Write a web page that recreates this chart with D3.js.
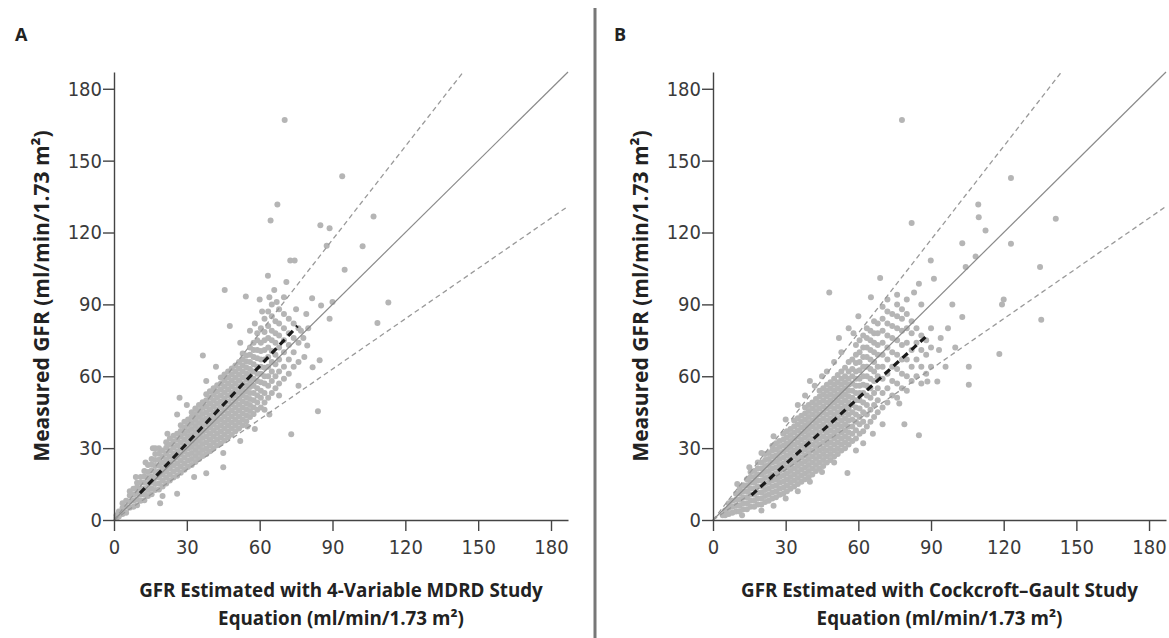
<!DOCTYPE html>
<meta charset="utf-8">
<style>
body { margin: 0; background: #fff; }
svg { display: block; }
.axis path, .axis line { stroke: #444; stroke-width: 1.4; }
.axis text { font-family: "DejaVu Sans Condensed", sans-serif; font-size: 20px; fill: #3a3a3a; }
.title { font-family: "Open Sans", sans-serif; font-weight: bold; font-size: 18.8px; fill: #222; }
.ytitle { font-family: "Open Sans", sans-serif; font-weight: bold; font-size: 21px; fill: #222; }
.panel-label { font-family: "Open Sans", sans-serif; font-weight: bold; font-size: 18px; fill: #222; }
</style>
<body>
<script src="https://d3js.org/d3.v7.min.js"></script>
<script>
// tick values, agreement limits (30% lines) and regression end points
var ticks = [0, 30, 60, 90, 120, 150, 180];
var limits = [1.3, 0.7];
var mdrdFit = [[10.7, 11.2], [75.6, 81]];
var cgFit = [[15.9, 10.4], [88.4, 77]];

// dense part of the cloud, read column by column: [x, [y, y, ...]]
var mdrdColumns = [
  [1, [0.8, 2]], [2, [1.5, 3.5]], [3.5, [2.5, 5, 7]], [5, [3, 5.5, 8]],
  [6.5, [5.2, 7.7, 10.2, 12]], [8, [5.5, 8, 10.5, 13]], [9.5, [6.2, 8.7, 11.2, 13.7, 15.5]],
  [11, [8, 10.5, 13, 15.5, 18]], [12.5, [8.2, 10.7, 13.2, 15.7, 18.2, 20.5]],
  [14, [10, 12.5, 15, 17.5, 20, 23]], [15.5, [10.7, 13.2, 15.7, 18.2, 20.7, 23.2, 25.5]],
  [17, [12.5, 15, 17.5, 20, 22.5, 25, 27.5]], [18.5, [12.7, 15.2, 17.7, 20.2, 22.7, 25.2, 27.7, 30]],
  [20, [14, 16.5, 19, 21.5, 24, 26.5, 29]], [21.5, [15.2, 17.7, 20.2, 22.7, 25.2, 27.7, 30.2, 32.5]],
  [23, [16.5, 19, 21.5, 24, 26.5, 29, 31.5, 34]], [24.5, [17.7, 20.2, 22.7, 25.2, 27.7, 30.2, 32.7, 35.2]],
  [26, [18.5, 21, 23.5, 26, 28.5, 31, 33.5, 36]],
  [27.5, [19.7, 22.2, 24.7, 27.2, 29.7, 32.2, 34.7, 37.2, 39.5]],
  [29, [21, 23.5, 26, 28.5, 31, 33.5, 36, 38.5, 41]],
  [30.5, [22.2, 24.7, 27.2, 29.7, 32.2, 34.7, 37.2, 39.7, 42]],
  [32, [23, 25.5, 28, 30.5, 33, 35.5, 38, 40.5, 43, 45]],
  [33.5, [24.2, 26.7, 29.2, 31.7, 34.2, 36.7, 39.2, 41.7, 44.2, 46.5]],
  [35, [25.5, 28, 30.5, 33, 35.5, 38, 40.5, 43, 45.5, 48]],
  [36.5, [26.7, 29.2, 31.7, 34.2, 36.7, 39.2, 41.7, 44.2, 46.7, 49.2]],
  [38, [27.5, 30, 32.5, 35, 37.5, 40, 42.5, 45, 47.5, 50, 52.5]],
  [39.5, [28.7, 31.2, 33.7, 36.2, 38.7, 41.2, 43.7, 46.2, 48.7, 51.2, 53.7]],
  [41, [30, 32.5, 35, 37.5, 40, 42.5, 45, 47.5, 50, 52.5, 55]],
  [42.5, [31.2, 33.7, 36.2, 38.7, 41.2, 43.7, 46.2, 48.7, 51.2, 53.7, 56.2]],
  [44, [32, 34.5, 37, 39.5, 42, 44.5, 47, 49.5, 52, 54.5, 57, 59.5]],
  [45.5, [33.2, 35.7, 38.2, 40.7, 43.2, 45.7, 48.2, 50.7, 53.2, 55.7, 58.2, 60.7]],
  [47, [34.5, 37, 39.5, 42, 44.5, 47, 49.5, 52, 54.5, 57, 59.5, 62]],
  [48.5, [35.7, 38.2, 40.7, 43.2, 45.7, 48.2, 50.7, 53.2, 55.7, 58.2, 60.7, 63.2]],
  [50, [37, 39.5, 42, 44.5, 47, 49.5, 52, 54.5, 57, 59.5, 62, 64.5]],
  [51.5, [38.2, 40.7, 43.2, 45.7, 48.2, 50.7, 53.2, 55.7, 58.2, 60.7, 63.2, 66]],
  [53, [39.5, 42, 44.5, 47, 49.5, 52, 54.5, 57, 59.5, 62, 64.5, 67, 69.5]],
  [54.5, [41.2, 43.7, 46.2, 48.7, 51.2, 53.7, 56.2, 58.7, 61.2, 63.7, 66.2, 68.7]],
  [56, [43, 45.5, 48, 50.5, 53, 55.5, 58, 60.5, 63, 66, 69, 72]],
  [57.5, [44.2, 47, 50, 53, 56, 59, 62, 65, 68, 71, 74]],
  [59, [46, 49, 52, 55, 58, 61, 64, 67.5, 71, 75, 78]],
  [60.5, [47, 51, 54, 57.5, 61, 64, 67, 70.5, 74, 80]],
  [62, [49, 53, 57, 60, 63.5, 67, 71, 75, 78.5, 84]],
  [63.5, [51, 56, 60, 64, 68, 72, 76, 81, 87]],
  [65, [53, 58, 62, 66, 70.5, 75, 79, 85, 90]],
  [66.5, [55, 60, 65, 69, 74, 78, 83]],
  [68, [57, 62, 67, 72, 77, 82, 88]],
  [70, [59, 64, 70, 75, 80, 86]],
  [72, [61, 67, 73, 78, 84]],
  [74, [64, 70, 76, 82]],
  [76, [66, 74, 80]]
];
var mdrdOutliers = [
  [70.3, 167], [94, 143.5], [67.3, 131.7], [64.5, 125], [106.9, 126.7], [85, 123], [88.8, 121.8],
  [87.6, 114.5], [102.4, 114.3], [72.6, 108.3], [74.4, 108.3], [95, 104.5], [63.4, 102], [45.6, 96],
  [54.3, 93.3], [113, 90.8], [108.5, 82.2], [47.7, 81], [71, 99.3], [81.6, 92.6], [90, 91], [88.8, 84],
  [85.3, 89.5], [73, 35.8], [84, 45.4], [84.7, 66.7], [81.8, 63.8], [78.4, 68], [79.6, 72.8], [79.2, 86],
  [58, 82], [61, 87], [64, 93], [67, 91], [70, 93], [75, 88], [77, 79], [60, 92], [66, 96], [56, 79],
  [52, 74], [42, 64], [38, 58], [36.6, 68.7], [27, 51], [30, 48], [26, 44], [22, 36], [17, 30], [16, 30],
  [13, 24], [9, 18], [19, 7], [26, 11], [20, 10], [33, 18], [38, 19.5], [45, 22], [45, 28], [52, 33],
  [58, 38], [64, 44], [68, 52], [76, 56], [78, 76], [80, 80], [62, 46], [55, 39]
];

var cgColumns = [
  [5, [2, 4]], [6.5, [2.5, 5, 7]], [8, [3, 5.5, 8]], [9.5, [3.5, 6, 8.5, 11]],
  [11, [3.5, 6, 8.5, 11, 13]], [12.5, [4.5, 7, 9.5, 12, 14.5]], [14, [4.5, 7, 9.5, 12, 14.5, 17]],
  [15.5, [5.5, 8, 10.5, 13, 15.5, 18, 20]], [17, [5.5, 8, 10.5, 13, 15.5, 18, 20.5]],
  [18.5, [6.5, 9, 11.5, 14, 16.5, 19, 21.5, 24]], [20, [6.5, 9, 11.5, 14, 16.5, 19, 21.5, 24]],
  [21.5, [7.5, 10, 12.5, 15, 17.5, 20, 22.5, 25, 27.5]], [23, [8, 10.5, 13, 15.5, 18, 20.5, 23, 25.5, 28]],
  [24.5, [9, 11.5, 14, 16.5, 19, 21.5, 24, 26.5, 29, 31]],
  [26, [9.5, 12, 14.5, 17, 19.5, 22, 24.5, 27, 29.5, 32]],
  [27.5, [10.5, 13, 15.5, 18, 20.5, 23, 25.5, 28, 30.5, 33]],
  [29, [11, 13.5, 16, 18.5, 21, 23.5, 26, 28.5, 31, 33.5, 36]],
  [30.5, [12, 14.5, 17, 19.5, 22, 24.5, 27, 29.5, 32, 34.5, 37]],
  [32, [13, 15.5, 18, 20.5, 23, 25.5, 28, 30.5, 33, 35.5, 38]],
  [33.5, [14, 16.5, 19, 21.5, 24, 26.5, 29, 31.5, 34, 36.5, 39, 41.5]],
  [35, [15, 17.5, 20, 22.5, 25, 27.5, 30, 32.5, 35, 37.5, 40, 42.5]],
  [36.5, [16, 18.5, 21, 23.5, 26, 28.5, 31, 33.5, 36, 38.5, 41, 43.5]],
  [38, [17, 19.5, 22, 24.5, 27, 29.5, 32, 34.5, 37, 39.5, 42, 44.5, 47]],
  [39.5, [18, 20.5, 23, 25.5, 28, 30.5, 33, 35.5, 38, 40.5, 43, 45.5, 48]],
  [41, [19, 21.5, 24, 26.5, 29, 31.5, 34, 36.5, 39, 41.5, 44, 46.5, 49]],
  [42.5, [20.5, 23, 25.5, 28, 30.5, 33, 35.5, 38, 40.5, 43, 45.5, 48, 50.5]],
  [44, [21.5, 24, 26.5, 29, 31.5, 34, 36.5, 39, 41.5, 44, 46.5, 49, 51.5, 54]],
  [45.5, [22.5, 25, 27.5, 30, 32.5, 35, 37.5, 40, 42.5, 45, 47.5, 50, 52.5, 55]],
  [47, [24, 26.5, 29, 31.5, 34, 36.5, 39, 41.5, 44, 46.5, 49, 51.5, 54, 56.5]],
  [48.5, [25, 27.5, 30, 32.5, 35, 37.5, 40, 42.5, 45, 47.5, 50, 52.5, 55, 57.5]],
  [50, [26.5, 29, 31.5, 34, 36.5, 39, 41.5, 44, 46.5, 49, 51.5, 54, 56.5, 59]],
  [51.5, [27.5, 30, 32.5, 35, 37.5, 40, 42.5, 45, 47.5, 50, 52.5, 55, 57.5, 60.5]],
  [53, [29, 31.5, 34, 36.5, 39, 41.5, 44, 46.5, 49, 51.5, 54, 56.5, 59, 62]],
  [54.5, [30, 32.5, 35, 37.5, 40, 42.5, 45, 47.5, 50, 52.5, 55, 57.5, 60, 63.5]],
  [56, [31.5, 34, 36.5, 39, 41.5, 44, 46.5, 49, 51.5, 54, 56.5, 59, 62, 66]],
  [57.5, [33, 36, 39, 42, 45, 48, 51, 54, 57, 60, 63, 67]],
  [59, [34, 37.5, 41, 44, 47, 50, 53, 56, 59, 62, 65.5, 69, 73]],
  [60.5, [36, 40, 43, 46.5, 50, 53, 56, 59, 62.5, 66, 70, 75]],
  [62, [37, 41, 45, 49, 53, 56.5, 60, 64, 68, 72, 77]],
  [63.5, [39, 44, 48, 52, 56, 60, 64, 68, 72, 76, 80]],
  [65, [41, 46, 51, 55, 59, 63, 67, 71, 75, 79]],
  [66.5, [43, 48, 53, 58, 62, 66, 70, 74, 78, 83]],
  [68, [45, 50, 55, 60, 64, 69, 73, 78, 82]],
  [70, [47, 53, 59, 64, 69, 74, 79, 84, 89]],
  [72, [49, 55, 61, 67, 72, 77, 82, 87]],
  [74, [52, 58, 64, 70, 76, 81, 86]],
  [76, [51, 57, 63, 69, 75, 80, 85, 90]],
  [78, [55, 61, 67, 73, 79, 84]],
  [80, [54, 60, 67, 74, 80, 86]],
  [82, [58, 64, 71, 78, 83]],
  [84, [60, 67, 74, 80]],
  [86, [57, 64, 71, 77]],
  [88, [61, 69, 75]],
  [90, [64, 72]]
];
var cgOutliers = [
  [78, 167], [123, 142.8], [82, 124], [109.5, 131.7], [109.7, 126.4], [112.5, 120.8], [141.5, 125.7],
  [102.9, 115.5], [123, 115.3], [108.4, 110], [104.3, 105.6], [135, 105.6], [135.5, 83.6], [120, 92],
  [119.3, 90], [118.2, 69.3], [105.6, 64], [105.6, 56.5], [98.8, 90], [102.9, 84.7], [91.2, 100.7],
  [89.9, 108.3], [85, 98.6], [69, 101], [48, 95], [92.6, 57.8], [88.5, 57.8], [85, 35.4], [76.9, 48.6],
  [65.2, 93], [78, 88], [80, 92], [83, 95], [76, 94], [96, 64], [93.3, 71], [79, 40], [55.5, 19.6],
  [59, 29], [62, 32], [66, 36], [70, 40], [90, 80], [94, 76], [86, 90], [72, 92], [60, 85], [56, 80],
  [52, 76], [58, 78], [47, 62], [50, 66], [53, 70], [45, 60], [42, 56], [38, 52], [40, 58], [35, 48],
  [30, 42], [25, 35], [20, 28], [15, 22], [10, 15], [4, 2], [12, 2], [20, 4], [25, 6], [30, 9],
  [35, 12], [40, 16], [45, 20], [50, 24], [100, 72], [97, 80]
];

var panels = [
  { label: "A", left: 114, right: 568, cols: mdrdColumns, out: mdrdOutliers, fit: mdrdFit,
    xTitle: "GFR Estimated with 4-Variable MDRD Study" },
  { label: "B", left: 713, right: 1166, cols: cgColumns, out: cgOutliers, fit: cgFit,
    xTitle: "GFR Estimated with Cockcroft\u2013Gault Study" }
];

var svg = d3.select("body").append("svg")
    .attr("width", 1169)
    .attr("height", 638);

// divider between the panels
svg.append("line")
    .attr("x1", 595).attr("x2", 595)
    .attr("y1", 8).attr("y2", 638)
    .attr("stroke", "#777")
    .attr("stroke-width", 3);

var plotTop = 72, plotBottom = 520, maxVal = 187;

panels.forEach(function(p) {
  var x = d3.scaleLinear().domain([0, maxVal]).range([p.left, p.right]);
  var y = d3.scaleLinear().domain([0, maxVal]).range([plotBottom, plotTop]);
  var g = svg.append("g");

  // flatten columns into points
  var pts = [];
  p.cols.forEach(function(c) {
    c[1].forEach(function(v) { pts.push([c[0], v]); });
  });
  pts = pts.concat(p.out);

  g.selectAll(".dot")
      .data(pts)
    .enter().append("circle")
      .attr("class", "dot")
      .attr("cx", function(d) { return x(d[0]); })
      .attr("cy", function(d) { return y(d[1]); })
      .attr("r", 3)
      .attr("fill", "#b5b5b5");

  // line of identity
  g.append("line")
      .attr("x1", x(0)).attr("y1", y(0))
      .attr("x2", x(maxVal)).attr("y2", y(maxVal))
      .attr("stroke", "#8a8a8a")
      .attr("stroke-width", 1.2);

  // 30% limits
  limits.forEach(function(k) {
    var xe = Math.min(maxVal, maxVal / k);
    g.append("line")
        .attr("x1", x(0)).attr("y1", y(0))
        .attr("x2", x(xe)).attr("y2", y(xe * k))
        .attr("stroke", "#999")
        .attr("stroke-width", 1.3)
        .attr("stroke-dasharray", "5,3.5");
  });

  // regression line
  g.append("line")
      .attr("x1", x(p.fit[0][0])).attr("y1", y(p.fit[0][1]))
      .attr("x2", x(p.fit[1][0])).attr("y2", y(p.fit[1][1]))
      .attr("stroke", "#1a1a1a")
      .attr("stroke-width", 3.2)
      .attr("stroke-dasharray", "7,5");

  g.append("g")
      .attr("class", "axis")
      .attr("transform", "translate(0," + plotBottom + ")")
      .call(d3.axisBottom(x).tickValues(ticks).tickSize(11).tickPadding(9).tickSizeOuter(0));

  g.append("g")
      .attr("class", "axis")
      .attr("transform", "translate(" + p.left + ",0)")
      .call(d3.axisLeft(y).tickValues(ticks).tickSize(11).tickPadding(1).tickSizeOuter(0));

  var cx = (p.left + p.right) / 2;
  g.append("text")
      .attr("class", "title")
      .attr("x", cx).attr("y", 597)
      .attr("text-anchor", "middle")
      .text(p.xTitle);
  g.append("text")
      .attr("class", "title")
      .attr("x", cx).attr("y", 625)
      .attr("text-anchor", "middle")
      .text("Equation (ml/min/1.73 m\u00b2)");

  g.append("text")
      .attr("class", "ytitle")
      .attr("transform", "translate(" + (p.left - 65) + "," + 296 + ") rotate(-90)")
      .attr("text-anchor", "middle")
      .text("Measured GFR (ml/min/1.73 m\u00b2)");

  g.append("text")
      .attr("class", "panel-label")
      .attr("x", p.left - 99).attr("y", 41)
      .text(p.label);
});
</script>
</body>
